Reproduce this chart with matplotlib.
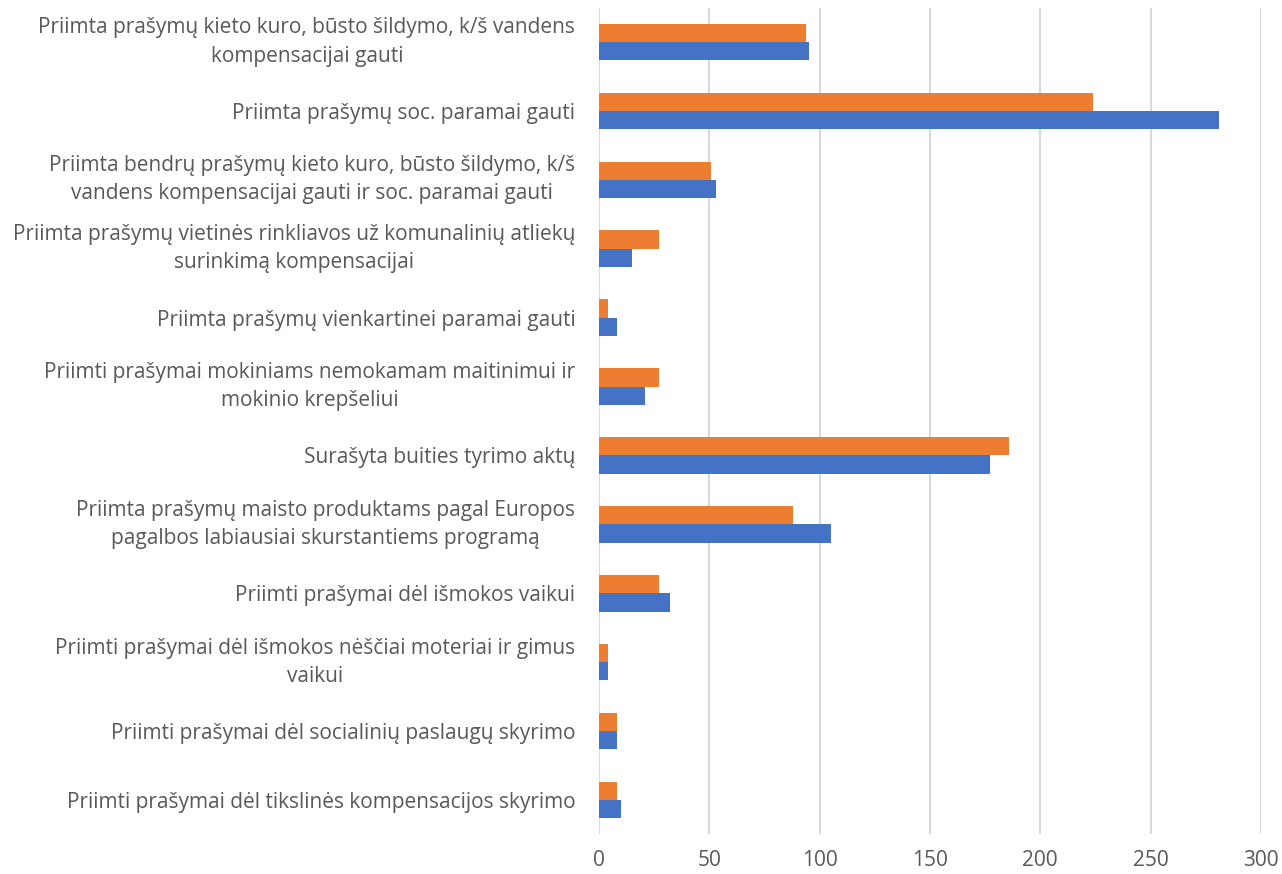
import matplotlib
matplotlib.use("AGG")
import matplotlib.pyplot as plt
import numpy as np

categories = [
    "Priimta prašymų kieto kuro, būsto šildymo, k/š vandens\nkompensacijai gauti",
    "Priimta prašymų soc. paramai gauti",
    "Priimta bendrų prašymų kieto kuro, būsto šildymo, k/š\nvandens kompensacijai gauti ir soc. paramai gauti",
    "Priimta prašymų vietinės rinkliavos už komunalinių atliekų\nsurinkimą kompensacijai",
    "Priimta prašymų vienkartinei paramai gauti",
    "Priimti prašymai mokiniams nemokamam maitinimui ir\nmokinio krepšeliui",
    "Surašyta buities tyrimo aktų",
    "Priimta prašymų maisto produktams pagal Europos\npagalbos labiausiai skurstantiems programą",
    "Priimti prašymai dėl išmokos vaikui",
    "Priimti prašymai dėl išmokos nėščiai moteriai ir gimus\nvaikui",
    "Priimti prašymai dėl socialinių paslaugų skyrimo",
    "Priimti prašymai dėl tikslinės kompensacijos skyrimo",
]
blue_vals = [95, 281, 53, 15, 8, 21, 177, 105, 32, 4, 8, 10]
orange_vals = [94, 224, 51, 27, 4, 27, 186, 88, 27, 4, 8, 8]
xticks = [0, 50, 100, 150, 200, 250, 300]

plt.rcParams['font.family'] = ['Open Sans', 'DejaVu Sans']

fig = plt.figure(figsize=(12.82, 8.74), dpi=100)
ax = fig.add_axes([0.4672, 0.0452, 0.5164, 0.9462])

y = np.arange(len(categories))
h = 0.265
ax.barh(y + h / 2, blue_vals, height=h, color="#4472C4", zorder=3)
ax.barh(y - h / 2, orange_vals, height=h, color="#ED7D31", zorder=3)

ax.set_ylim(len(categories) - 0.5, -0.5)
ax.set_xlim(0, 300)
ax.set_xticks(xticks)
ax.set_yticks(y)
ax.set_yticklabels(categories, ha="right", multialignment="center", linespacing=1.45)
for lbl in ax.get_yticklabels():
    if "\n" in lbl.get_text():
        lbl.set_va("center")
ax.tick_params(axis="y", length=0, pad=17, labelsize=15, labelcolor="#595959")
ax.tick_params(axis="x", length=0, pad=11, labelsize=15, labelcolor="#595959")
ax.xaxis.grid(True, color="#D9D9D9", linewidth=1.5, zorder=0)
for s in ax.spines.values():
    s.set_visible(False)

fig.savefig("out.png", dpi=100)
